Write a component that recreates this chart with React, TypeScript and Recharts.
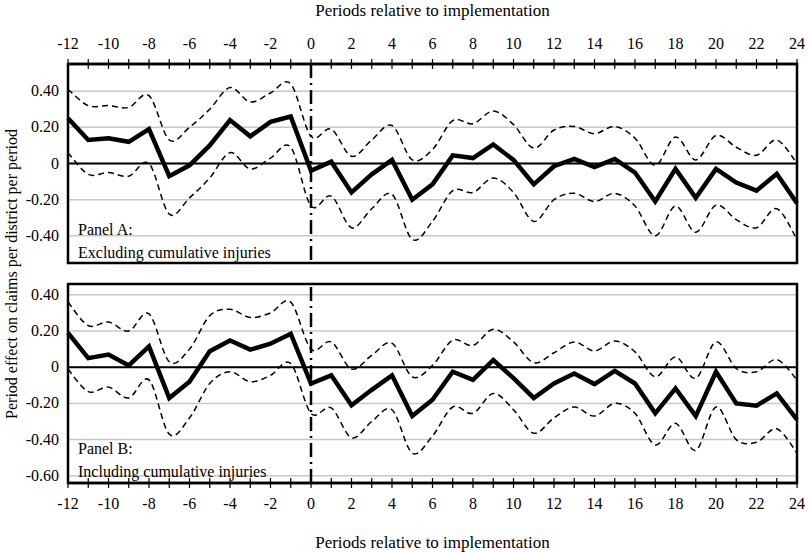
import React from 'react';
import {
  CartesianGrid,
  Line,
  LineChart,
  ReferenceArea,
  ReferenceLine,
  XAxis,
  YAxis,
} from 'recharts';

const periods = [
  -12, -11, -10, -9, -8, -7, -6, -5, -4, -3, -2, -1, 0, 1, 2, 3, 4, 5, 6, 7, 8, 9,
  10, 11, 12, 13, 14, 15, 16, 17, 18, 19, 20, 21, 22, 23, 24,
];
const xTicks = periods;

// Panel A: excluding cumulative injuries
const estA = [
  0.25, 0.13, 0.14, 0.12, 0.19, -0.07, -0.01, 0.1, 0.24, 0.15, 0.23, 0.26, -0.04,
  0.01, -0.16, -0.06, 0.02, -0.2, -0.115, 0.045, 0.03, 0.105, 0.02, -0.115, -0.015,
  0.025, -0.02, 0.025, -0.05, -0.21, -0.03, -0.19, -0.03, -0.105, -0.15, -0.057, -0.22,
];
const upA = [
  0.41, 0.32, 0.32, 0.31, 0.375, 0.13, 0.2, 0.3, 0.42, 0.34, 0.39, 0.44, 0.15,
  0.19, 0.04, 0.13, 0.21, 0.02, 0.077, 0.237, 0.22, 0.29, 0.215, 0.085, 0.185,
  0.205, 0.165, 0.205, 0.14, -0.01, 0.147, 0.02, 0.155, 0.09, 0.045, 0.13, 0.0,
];
const loA = [
  0.06, -0.06, -0.05, -0.07, 0.0, -0.28, -0.19, -0.08, 0.06, -0.03, 0.03, 0.09, -0.235,
  -0.18, -0.355, -0.25, -0.17, -0.42, -0.32, -0.15, -0.16, -0.08, -0.16, -0.32, -0.2,
  -0.165, -0.21, -0.165, -0.235, -0.4, -0.235, -0.38, -0.23, -0.31, -0.355, -0.25, -0.42,
];

// Panel B: including cumulative injuries
const estB = [
  0.19, 0.05, 0.07, 0.01, 0.115, -0.17, -0.08, 0.088, 0.148, 0.097, 0.13, 0.185, -0.09,
  -0.045, -0.21, -0.125, -0.045, -0.27, -0.18, -0.025, -0.07, 0.04, -0.06, -0.17, -0.09,
  -0.035, -0.093, -0.02, -0.09, -0.255, -0.117, -0.27, -0.025, -0.2, -0.213, -0.145, -0.29,
];
const upB = [
  0.36, 0.23, 0.25, 0.2, 0.295, 0.03, 0.1, 0.285, 0.32, 0.275, 0.3, 0.36, 0.1,
  0.14, -0.01, 0.066, 0.133, -0.053, 0.01, 0.15, 0.12, 0.21, 0.14, 0.025, 0.08,
  0.14, 0.09, 0.145, 0.085, -0.053, 0.057, -0.062, 0.14, -0.007, -0.025, 0.042, -0.07,
];
const loB = [
  -0.01, -0.135, -0.11, -0.17, -0.07, -0.37, -0.28, -0.09, -0.025, -0.08, -0.045, 0.02, -0.255,
  -0.225, -0.39, -0.3, -0.235, -0.475, -0.38, -0.22, -0.255, -0.145, -0.235, -0.365, -0.28,
  -0.22, -0.27, -0.2, -0.255, -0.43, -0.31, -0.46, -0.22, -0.4, -0.415, -0.34, -0.475,
];

const yTicksA = [-0.4, -0.2, 0, 0.2, 0.4];
const yTicksB = [-0.6, -0.4, -0.2, 0, 0.2, 0.4];

const dataA = periods.map((p, i) => ({ p, est: estA[i], up: upA[i], lo: loA[i] }));
const dataB = periods.map((p, i) => ({ p, est: estB[i], up: upB[i], lo: loB[i] }));

const FONT = "'Liberation Serif', 'Times New Roman', Times, serif";
const TICK_OUT = 5;
const TICK_MARGIN = 8;

// smooth curve through the points (Catmull-Rom style), like spreadsheet "smoothed" lines
const smoothCurve = (context: any) => {
  let pts: number[][] = [];
  return {
    areaStart() {},
    areaEnd() {},
    lineStart() {
      pts = [];
    },
    point(x: number, y: number) {
      pts.push([+x, +y]);
    },
    lineEnd() {
      if (!pts.length) return;
      context.moveTo(pts[0][0], pts[0][1]);
      for (let i = 0; i < pts.length - 1; i++) {
        const p0 = pts[i - 1] || pts[i];
        const p1 = pts[i];
        const p2 = pts[i + 1];
        const p3 = pts[i + 2] || p2;
        context.bezierCurveTo(
          p1[0] + (p2[0] - p0[0]) / 6,
          p1[1] + (p2[1] - p0[1]) / 6,
          p2[0] - (p3[0] - p1[0]) / 6,
          p2[1] - (p3[1] - p1[1]) / 6,
          p2[0],
          p2[1]
        );
      }
    },
  };
};

const fmtY = (v: number) => (v === 0 ? '0' : v.toFixed(2));

const XTick = (props: any) => {
  const { x, y, payload, top } = props;
  const v = payload.value;
  const axisY = top ? y + TICK_OUT + TICK_MARGIN : y - TICK_OUT - TICK_MARGIN;
  return (
    <g>
      <line x1={x} x2={x} y1={axisY - 5} y2={axisY + 5} stroke="#000" strokeWidth={1.2} />
      {v % 2 === 0 && (
        <text
          x={x}
          y={top ? y - 2 : y + 13}
          textAnchor="middle"
          style={{ fontFamily: FONT, fontSize: 16 }}
          fill="#000"
        >
          {String(v)}
        </text>
      )}
    </g>
  );
};

const YTick = (props: any) => {
  const { x, y, payload } = props;
  return (
    <text
      x={x}
      y={y}
      dy={5}
      textAnchor="end"
      style={{ fontFamily: FONT, fontSize: 16 }}
      fill="#000"
    >
      {fmtY(payload.value)}
    </text>
  );
};

interface PanelProps {
  data: { p: number; est: number; up: number; lo: number }[];
  yDomain: number[];
  yTicks: number[];
  top: boolean;
  height: number;
  margin: { top: number; right: number; bottom: number; left: number };
  axisHeight: number;
}

const Panel: React.FC<PanelProps> = ({ data, yDomain, yTicks, top, height, margin, axisHeight }) => (
  <LineChart width={809} height={height} data={data} margin={margin}>
    <CartesianGrid vertical={false} stroke="#c8c8c8" strokeWidth={1.5} />
    <XAxis
      dataKey="p"
      type="number"
      domain={[-12, 24]}
      ticks={xTicks}
      interval={0}
      orientation={top ? 'top' : 'bottom'}
      height={axisHeight}
      tickSize={TICK_OUT}
      tickMargin={TICK_MARGIN}
      tickLine={false}
      axisLine={{ stroke: '#000', strokeWidth: 2.5 }}
      tick={<XTick top={top} />}
      label={{
        value: 'Periods relative to implementation',
        position: top ? 'insideTop' : 'insideBottom',
        offset: 4,
        style: { fontFamily: FONT, fontSize: 17, fill: '#000' },
      }}
    />
    <YAxis
      type="number"
      domain={yDomain}
      ticks={yTicks}
      width={68}
      allowDataOverflow
      tickLine={false}
      axisLine={false}
      tickSize={0}
      tickMargin={9}
      tick={<YTick />}
    />
    <ReferenceLine y={0} stroke="#000" strokeWidth={2} />
    <ReferenceLine x={0} stroke="#000" strokeWidth={2.5} strokeDasharray="14 5 2 5" />
    <Line
      dataKey="up"
      type={smoothCurve as any}
      stroke="#000"
      strokeWidth={1.5}
      strokeDasharray="6 4"
      dot={false}
      isAnimationActive={false}
    />
    <Line
      dataKey="lo"
      type={smoothCurve as any}
      stroke="#000"
      strokeWidth={1.5}
      strokeDasharray="6 4"
      dot={false}
      isAnimationActive={false}
    />
    <Line
      dataKey="est"
      type="linear"
      stroke="#000"
      strokeWidth={4.5}
      strokeLinejoin="miter"
      dot={false}
      isAnimationActive={false}
    />
    <ReferenceArea
      x1={-12}
      x2={24}
      y1={yDomain[0]}
      y2={yDomain[1]}
      fill="none"
      stroke="#000"
      strokeWidth={2.5}
      ifOverflow="visible"
    />
  </LineChart>
);

const textStyle = { fontFamily: FONT, fontSize: 16 };

export default function App() {
  return (
    <div style={{ position: 'absolute', left: 0, top: 0, width: 809, height: 552, background: '#fff' }}>
      <Panel
        data={dataA}
        yDomain={[-0.55, 0.55]}
        yTicks={yTicksA}
        top
        height={270}
        margin={{ top: 0, right: 12, bottom: 7, left: 0 }}
        axisHeight={64}
      />
      <Panel
        data={dataB}
        yDomain={[-0.64, 0.46]}
        yTicks={yTicksB}
        top={false}
        height={282}
        margin={{ top: 14, right: 12, bottom: 0, left: 0 }}
        axisHeight={69}
      />
      <svg
        width={809}
        height={552}
        style={{ position: 'absolute', left: 0, top: 0, pointerEvents: 'none' }}
      >
        <text x={78} y={235} fill="#000" style={textStyle}>Panel A:</text>
        <text x={78} y={258} fill="#000" style={textStyle}>Excluding cumulative injuries</text>
        <text x={78} y={454} fill="#000" style={textStyle}>Panel B:</text>
        <text x={78} y={477} fill="#000" style={textStyle}>Including cumulative injuries</text>
        <text
          x={0}
          y={0}
          transform="translate(17, 274) rotate(-90)"
          textAnchor="middle"
          fill="#000"
          style={textStyle}
        >
          Period effect on claims per district per period
        </text>
      </svg>
    </div>
  );
}
